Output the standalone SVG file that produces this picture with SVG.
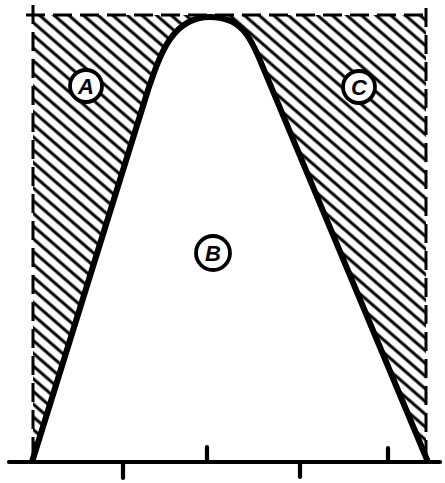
<svg xmlns="http://www.w3.org/2000/svg" width="445" height="483" viewBox="0 0 445 483">
  <style>
    .dash { stroke: #000; stroke-width: 3; fill: none; stroke-dasharray: 19 8; }
    .tick { stroke: #000; stroke-width: 4.2; stroke-linecap: round; fill: none; }
    .lab circle { fill: #fff; stroke: #000; stroke-width: 3.8; }
    .lab text { font-family: "Liberation Sans", Arial, sans-serif; font-weight: bold; font-style: italic; font-size: 22px; text-anchor: middle; fill: #000; }
  </style>
  <defs>
    <pattern id="hatch" patternUnits="userSpaceOnUse" width="20" height="9.6" patternTransform="rotate(41)">
      <rect width="20" height="9.6" fill="#fff"/>
      <line x1="0" y1="4.8" x2="20" y2="4.8" stroke="#000" stroke-width="3"/>
    </pattern>
  </defs>
  <rect width="445" height="483" fill="#fff"/>
  <g id="hatched-area">
    <rect x="33" y="15" width="393" height="447" fill="url(#hatch)"/>
  </g>
  <g id="frame">
    <line class="dash" x1="26" y1="15" x2="430" y2="15"/>
    <line class="dash" x1="33" y1="5" x2="33" y2="462"/>
    <line class="dash" x1="426" y1="8" x2="426" y2="462"/>
  </g>
  <g id="curve">
    <path d="M32,462 L148,90 C160,55 172,17 210,17 C240,17 250,35 262,65 L428,462" fill="#fff" stroke="#000" stroke-width="6" stroke-linejoin="round"/>
  </g>
  <g id="axis">
    <line class="tick" x1="9" y1="462" x2="440" y2="462"/>
    <line class="tick" x1="123" y1="462" x2="123" y2="478"/>
    <line class="tick" x1="207" y1="462" x2="207" y2="447"/>
    <line class="tick" x1="300" y1="462" x2="300" y2="477"/>
    <line class="tick" x1="388" y1="462" x2="388" y2="448"/>
  </g>
  <g id="label-A" class="lab">
    <circle cx="86" cy="86" r="16"/>
    <text x="86" y="94">A</text>
  </g>
  <g id="label-B" class="lab">
    <circle cx="213" cy="253" r="17"/>
    <text x="213" y="261">B</text>
  </g>
  <g id="label-C" class="lab">
    <circle cx="359" cy="87" r="16"/>
    <text x="359" y="95">C</text>
  </g>
</svg>
